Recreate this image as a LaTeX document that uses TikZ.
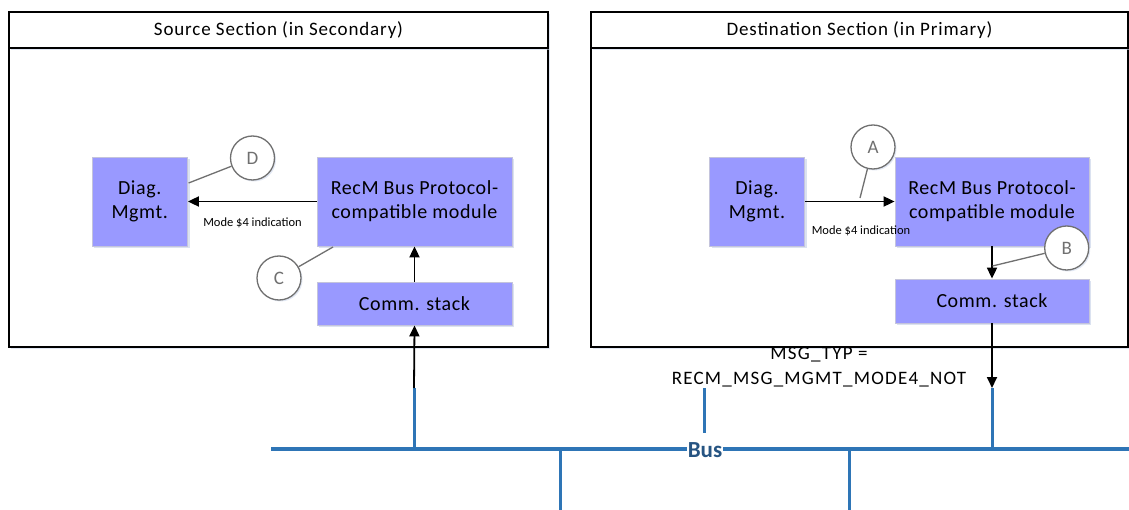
\documentclass[tikz,border=0pt]{standalone}
\usepackage{fontspec}
\setmainfont{Carlito}
\newfontfamily\titlefont[LetterSpace=4.5]{Carlito}
\newfontfamily\blockfont[LetterSpace=3]{Carlito}
\newfontfamily\msgfont[LetterSpace=6.5]{Carlito}
\usetikzlibrary{arrows.meta,shadows}
\definecolor{boxfill}{RGB}{153,153,255}
\definecolor{boxline}{RGB}{196,196,220}
\definecolor{callout}{RGB}{112,112,112}
\definecolor{busblue}{RGB}{46,117,182}
\definecolor{bustext}{RGB}{38,84,130}
\definecolor{shadowc}{RGB}{205,215,235}
\tikzset{
  section/.style={draw=black, line width=1.4pt, fill=white, inner sep=0pt,
    drop shadow={fill=shadowc, opacity=0.6, shadow xshift=2pt, shadow yshift=-2pt}},
  sectitle/.style={section, font=\titlefont\fontsize{19}{22}\selectfont},
  block/.style={draw=boxline, line width=0.8pt, fill=boxfill, inner sep=0pt, align=center,
    font=\blockfont\fontsize{20}{24}\selectfont,
    drop shadow={fill=shadowc, opacity=0.7, shadow xshift=2pt, shadow yshift=-2pt}},
  mark circ/.style={circle, draw=callout, line width=1.3pt, fill=white, minimum size=44pt, inner sep=0pt,
    text=callout, font=\fontsize{19}{22}\selectfont,
    drop shadow={fill=shadowc, opacity=0.6, shadow xshift=1.5pt, shadow yshift=-1.5pt}},
  leader/.style={draw=callout, line width=1.3pt},
  flow/.style={draw=black, line width=1.8pt, -{Triangle[length=11pt,width=10pt]}},
  buswire/.style={draw=busblue, line width=4pt},
  stub/.style={draw=busblue, line width=3pt},
  small/.style={font=\fontsize{12.5}{14}\selectfont},
}
\begin{document}
\begin{tikzpicture}[x=1pt,y=-1pt]
\useasboundingbox (0,0) rectangle (1129,510);
% sections
\node[section, minimum width=539pt, minimum height=299pt] (bL) at (278.5,197.5) {};
\node[sectitle, minimum width=539pt, minimum height=36pt] (tL) at (278.5,30) {Source Section (in Secondary)};
\node[section, minimum width=537pt, minimum height=299pt] (bR) at (859.5,197.5) {};
\node[sectitle, minimum width=537pt, minimum height=36pt] (tR) at (859.5,30) {Destination Section (in Primary)};
% left blocks
\node[block, minimum width=95.5pt, minimum height=89pt] (dL) at (139.75,201.5) {Diag.\\Mgmt.};
\node[block, minimum width=195pt, minimum height=89pt] (rL) at (414.5,201.5) {RecM Bus Protocol-\\compatible module};
\node[block, minimum width=195pt, minimum height=43pt] (cL) at (414.5,303.5) {Comm. stack};
% right blocks
\node[block, minimum width=95pt, minimum height=89pt] (dR) at (757,201.5) {Diag.\\Mgmt.};
\node[block, minimum width=194pt, minimum height=89pt] (rR) at (992,201.5) {RecM Bus Protocol-\\compatible module};
\node[block, minimum width=194pt, minimum height=44pt] (cR) at (992,301) {Comm. stack};
% flows
\draw[flow] (rL.west) -- (dL.east);
\node[small] (lblL) at (252.5,223) {Mode \$4 indication};
\draw[flow] (cL.north) -- (rL.south);
\draw[flow] (dR.east) -- (rR.west);
\node[small] (lblR) at (861,231) {Mode \$4 indication};
\draw[flow] (rR.south) -- (cR.north);
% bus
\coordinate (busA) at (271,449);
\coordinate (busB) at (1129,449);
\coordinate (s1top) at (414,388);
\coordinate (s1bot) at (414,449);
\coordinate (s2top) at (704,388);
\coordinate (s2bot) at (704,433);
\coordinate (s3top) at (992,388);
\coordinate (s3bot) at (992,449);
\coordinate (d1top) at (560,449);
\coordinate (d1bot) at (560,510);
\coordinate (d2top) at (849,449);
\coordinate (d2bot) at (849,510);
\draw[buswire] (busA) -- (busB);
\draw[stub] (s1top) -- (s1bot);
\draw[stub] (s2top) -- (s2bot);
\draw[stub] (s3top) -- (s3bot);
\draw[stub] (d1top) -- (d1bot);
\draw[stub] (d2top) -- (d2bot);
\node[fill=white, inner sep=1pt, text=bustext, font=\bfseries\fontsize{23}{25}\selectfont] (bus) at (705,450) {Bus};
\draw[flow] (s1top) -- (cL.south);
\draw[flow] (cR.south) -- (s3top);
\node[align=center, font=\msgfont\fontsize{19}{25}\selectfont] (msg) at (819,367) {MSG\_TYP =\\RECM\_MSG\_MGMT\_MODE4\_NOT};
% callouts
\node[mark circ] (A) at (873,147) {A};
\node[mark circ] (B) at (1066.7,248) {B};
\node[mark circ] (C) at (279,278) {C};
\node[mark circ] (D) at (252.5,158) {D};
\coordinate (aEnd) at (860,198);
\coordinate (bEnd) at (992.5,266);
\coordinate (cEnd) at (333,247);
\coordinate (dEnd) at (188.6,183);
\draw[leader] (A) -- (aEnd);
\draw[leader] (B) -- (bEnd);
\draw[leader] (C) -- (cEnd);
\draw[leader] (D) -- (dEnd);
\end{tikzpicture}
\end{document}
